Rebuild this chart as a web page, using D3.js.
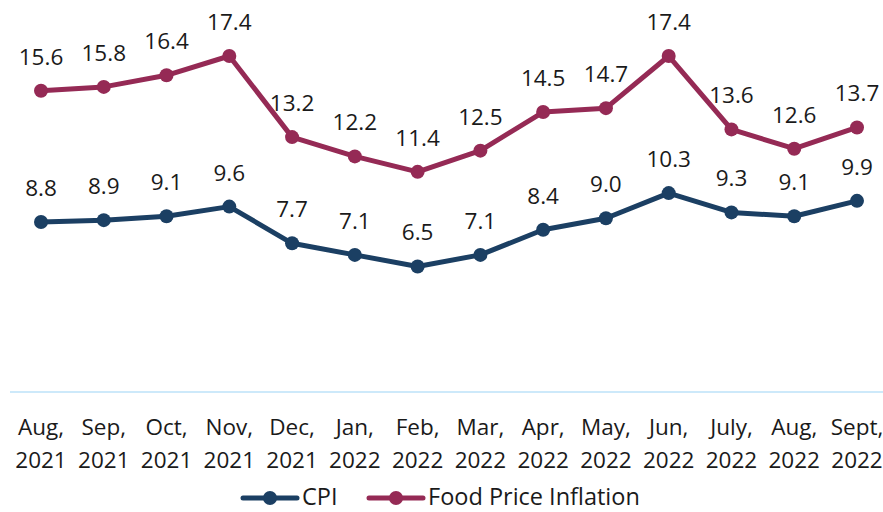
<!DOCTYPE html>
<html>
<head>
<meta charset="utf-8">
<script src="https://cdn.jsdelivr.net/npm/d3@7"></script>
<style>
  body { margin: 0; background: #fff; }
  svg text { font-family: "Open Sans", "Noto Sans", sans-serif; fill: #1a1a1a; }
</style>
</head>
<body>
<svg id="chart" width="883" height="512"></svg>
<script>
// data
var months = ["Aug,", "Sep,", "Oct,", "Nov,", "Dec,", "Jan,", "Feb,", "Mar,", "Apr,", "May,", "Jun,", "July,", "Aug,", "Sept,"]
var years = ["2021", "2021", "2021", "2021", "2021", "2022", "2022", "2022", "2022", "2022", "2022", "2022", "2022", "2022"]
var cpi = [8.8, 8.9, 9.1, 9.6, 7.7, 7.1, 6.5, 7.1, 8.4, 9.0, 10.3, 9.3, 9.1, 9.9]
var food = [15.6, 15.8, 16.4, 17.4, 13.2, 12.2, 11.4, 12.5, 14.5, 14.7, 17.4, 13.6, 12.6, 13.7]

var series = [
  { name: "CPI", values: cpi, color: "#1b3f63" },
  { name: "Food Price Inflation", values: food, color: "#952a55" }
]

var svg = d3.select("#chart")

var x = d3.scalePoint()
  .domain(d3.range(months.length))
  .range([41, 857])

var y = d3.scaleLinear()
  .domain([0, 20])
  .range([392, 5.8])

// baseline
svg.append("line")
  .attr("x1", 10).attr("x2", 883)
  .attr("y1", y(0)).attr("y2", y(0))
  .attr("stroke", "#cde9fa")
  .attr("stroke-width", 2)

// category labels (two lines)
var cats = svg.append("g")
cats.selectAll("text.m")
  .data(months)
  .enter().append("text")
  .attr("class", "m")
  .attr("x", (d, i) => x(i))
  .attr("y", 435)
  .attr("text-anchor", "middle")
  .style("font-size", "22.5px")
  .text(d => d)
cats.selectAll("text.yr")
  .data(years)
  .enter().append("text")
  .attr("class", "yr")
  .attr("x", (d, i) => x(i))
  .attr("y", 468)
  .attr("text-anchor", "middle")
  .style("font-size", "22.5px")
  .text(d => d)

var line = d3.line()
  .x((d, i) => x(i))
  .y(d => y(d))

series.forEach(function(s) {
  var g = svg.append("g")
  g.append("path")
    .attr("d", line(s.values))
    .attr("fill", "none")
    .attr("stroke", s.color)
    .attr("stroke-width", 5)
    .attr("stroke-linejoin", "round")
  g.selectAll("circle")
    .data(s.values)
    .enter().append("circle")
    .attr("cx", (d, i) => x(i))
    .attr("cy", d => y(d))
    .attr("r", 7)
    .attr("fill", s.color)
  g.selectAll("text")
    .data(s.values)
    .enter().append("text")
    .attr("x", (d, i) => x(i))
    .attr("y", d => y(d) - 26)
    .attr("text-anchor", "middle")
    .style("font-size", "22.5px")
    .text(d => d.toFixed(1))
})

// legend
var legendX = [243, 369]
var legend = svg.selectAll("g.legend")
  .data(series)
  .enter().append("g")
  .attr("class", "legend")
  .attr("transform", (d, i) => "translate(" + legendX[i] + ",498)")
legend.append("line")
  .attr("x1", 0).attr("x2", 54)
  .attr("stroke", d => d.color)
  .attr("stroke-width", 5)
  .attr("stroke-linecap", "round")
legend.append("circle")
  .attr("cx", 27)
  .attr("r", 7)
  .attr("fill", d => d.color)
legend.append("text")
  .attr("x", 59)
  .attr("y", 7)
  .style("font-size", "23.5px")
  .text(d => d.name)
</script>
</body>
</html>
